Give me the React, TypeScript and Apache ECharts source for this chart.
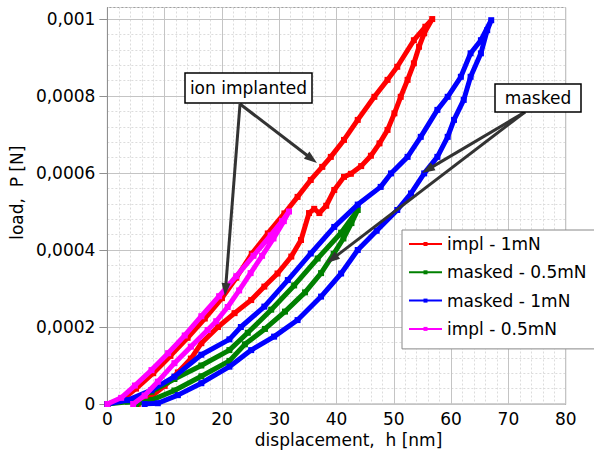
import React, { useEffect, useRef } from 'react';
import * as echarts from 'echarts';

// ---- data (displacement h [nm], load P [N]) ----
const seriesNames = ['impl - 1mN', 'masked - 0.5mN', 'masked - 1mN', 'impl - 0.5mN'];
const seriesColors = ['#ff0000', '#008000', '#0000ff', '#ff00ff'];

const impl1mN: [number, number][] = [
  [0, 0], [2.5, 0.00001], [5, 0.00004], [8, 0.00008], [11, 0.000125], [14, 0.000172], [17, 0.000222],
  [20, 0.000275], [22.5, 0.000328], [25.2, 0.00039], [28, 0.000443], [30.9, 0.000495], [33.2, 0.000538],
  [35.5, 0.000582], [37.5, 0.000616], [39, 0.000642], [41.3, 0.000686], [43.7, 0.000738], [46.6, 0.000798],
  [48.9, 0.000842], [50.6, 0.000876], [53.5, 0.000945], [55.5, 0.00098], [56.7, 0.001],
  [55.3, 0.000963], [54.4, 0.000928], [53.5, 0.000885], [52.4, 0.000842], [51.2, 0.000798], [50.1, 0.000755],
  [48.9, 0.000712], [47.5, 0.000677], [46, 0.000645], [44.3, 0.000618], [42.5, 0.000598], [41.3, 0.00059],
  [39.6, 0.000556], [38.2, 0.000515], [37, 0.000496], [36.1, 0.000507], [35.2, 0.000496], [33.8, 0.000426],
  [32.1, 0.000383], [29.7, 0.000339], [27.4, 0.000305], [25.1, 0.00027], [22.2, 0.000236], [19.3, 0.0002],
  [16.4, 0.000158], [14.6, 0.000118], [12.3, 0.000082], [10, 0.000047], [7.7, 0.00002], [5.3, 0],
];

const masked05mN: [number, number][] = [
  [0, 0], [3.6, 0.000006], [7.7, 0.000032], [11.7, 0.000065], [16.4, 0.0001], [21.3, 0.00014],
  [24.5, 0.000185], [28.6, 0.000245], [32.6, 0.000308], [36.7, 0.000378], [40.8, 0.000445], [43.7, 0.000504],
  [42.6, 0.00047], [41.2, 0.00043], [39.5, 0.00039], [37.3, 0.00034], [34.5, 0.00029], [31, 0.00024],
  [27.5, 0.000195], [24, 0.000155], [21.3, 0.000112], [16.4, 0.000072], [11.7, 0.000035], [7.7, 0.00001], [5, 0],
];

const masked1mN: [number, number][] = [
  [0, 0], [3.6, 0.00001], [7.7, 0.000036], [11.7, 0.000071], [16.4, 0.000128], [21.3, 0.000168],
  [23.3, 0.0002], [27.4, 0.000253], [31.5, 0.000322], [35.5, 0.000391], [39.6, 0.00046], [43.7, 0.000518],
  [47.7, 0.000564], [49.5, 0.000599], [52.4, 0.000642], [54.7, 0.000694], [57.6, 0.000764], [59.4, 0.000798],
  [61.7, 0.00085], [63.4, 0.000911], [65.2, 0.000945], [67, 0.000997],
  [66.3, 0.000971], [65.2, 0.000911], [63.4, 0.00085], [62.2, 0.00079], [60.5, 0.000738], [59.4, 0.000694],
  [57.6, 0.000642], [55.3, 0.000599], [53, 0.000547], [50.6, 0.000504], [47, 0.00045], [43.7, 0.0004],
  [40.8, 0.000339], [37.3, 0.000279], [33.2, 0.000218], [29.1, 0.000175], [25.1, 0.00014], [21.3, 0.000097],
  [16.4, 0.000054], [12.3, 0.000023], [8.8, 0.000002], [6.5, 0],
];

const impl05mN: [number, number][] = [
  [0, 0], [2.4, 0.000016], [4.8, 0.000048], [7.7, 0.000088], [10.6, 0.000132], [13.5, 0.000178],
  [16.4, 0.000228], [19.5, 0.00028], [22.5, 0.000332], [25.5, 0.000385], [28.5, 0.000438], [30.5, 0.000475],
  [31.7, 0.0005],
  [30.8, 0.000475], [29, 0.00043], [27, 0.000385], [25, 0.00034], [23, 0.000295], [21, 0.000252],
  [19, 0.000215], [17.5, 0.000192], [14.6, 0.000149], [11.7, 0.000106], [8.8, 0.000058], [6.5, 0.000022], [4.5, 0],
];

const seriesData = [impl1mN, masked05mN, masked1mN, impl05mN];

const yTickValues = [0, 0.0002, 0.0004, 0.0006, 0.0008, 0.001];
const xMin = 0;
const xMax = 80;
const yMin = 0;
const yMax = 0.00103;

const FONT = 'DejaVu Sans';

function arrow(x1: number, y1: number, x2: number, y2: number) {
  const headLen = 13;
  const headHalf = 4.5;
  const dx = x2 - x1;
  const dy = y2 - y1;
  const len = Math.hypot(dx, dy);
  const ux = dx / len;
  const uy = dy / len;
  const bx = x2 - ux * headLen;
  const by = y2 - uy * headLen;
  const px = -uy;
  const py = ux;
  return [
    { type: 'line', z: 100, shape: { x1, y1, x2: bx + ux * 2, y2: by + uy * 2 }, style: { stroke: '#333', lineWidth: 3 } },
    {
      type: 'polygon', z: 100,
      shape: { points: [[x2, y2], [bx + px * headHalf, by + py * headHalf], [bx - px * headHalf, by - py * headHalf]] },
      style: { fill: '#333' },
    },
  ];
}

function label(x: number, y: number, w: number, h: number, text: string) {
  return [
    { type: 'rect', z: 101, shape: { x, y, width: w, height: h }, style: { fill: '#fff', stroke: '#000', lineWidth: 1.5 } },
    {
      type: 'text', z: 102, x: x + w / 2, y: y + h / 2,
      style: { text, fill: '#000', font: `17px "${FONT}"`, align: 'center', verticalAlign: 'middle' },
    },
  ];
}

export default function App() {
  const ref = useRef<HTMLDivElement>(null);
  useEffect(() => {
    if (!ref.current) return;
    const chart = echarts.init(ref.current, undefined, { renderer: 'svg' });
    const fmt = (v: number) => (v === 0 ? '0' : String(Number(v.toPrecision(6))).replace('.', ','));
    chart.setOption({
      animation: false,
      backgroundColor: '#fff',
      grid: {
        left: 106, top: 7.5, right: 28.3, bottom: 51,
        show: true, borderColor: '#a0a0a0', borderWidth: 1, backgroundColor: 'transparent',
      },
      xAxis: {
        type: 'value', min: xMin, max: xMax, interval: 10,
        name: 'displacement,  h [nm]', nameLocation: 'middle', nameGap: 23,
        nameTextStyle: { fontFamily: FONT, fontSize: 17, color: '#000', padding: [0, 0, 0, 24] },
        axisLine: { show: true, lineStyle: { color: '#909090', width: 1 } },
        axisTick: { show: false },
        axisLabel: { fontFamily: FONT, fontSize: 17, color: '#000', margin: 6 },
        splitLine: { show: true, lineStyle: { color: '#c4c4c4', width: 1 } },
        minorTick: { show: false, splitNumber: 5 },
        minorSplitLine: { show: true, lineStyle: { color: '#dcdcdc', type: [2, 2], width: 1 } },
      },
      yAxis: [
        {
          type: 'value', min: yMin, max: yMax, interval: 0.0002,
          name: 'load,  P [N]', nameLocation: 'middle', nameGap: 76,
          nameTextStyle: { fontFamily: FONT, fontSize: 17, color: '#000', padding: [0, 0, 0, 26] },
          axisLine: { show: true, lineStyle: { color: '#909090', width: 1 } },
          axisTick: { show: true, inside: false, length: 8, lineStyle: { color: '#909090' }, customValues: yTickValues },
          axisLabel: {
            fontFamily: FONT, fontSize: 17, color: '#000', margin: 12,
            customValues: yTickValues, formatter: (v: number) => fmt(v),
          },
          splitLine: { show: true, lineStyle: { color: '#c4c4c4', width: 1 } },
          z: 1,
        },
        {
          type: 'value', min: yMin, max: yMax, interval: 0.00004, position: 'left',
          axisLine: { show: false }, axisTick: { show: false }, axisLabel: { show: false },
          splitLine: { show: true, lineStyle: { color: '#dcdcdc', type: [2, 2], width: 1 } },
          z: 0,
        },
      ],
      legend: {
        left: 402, top: 230, orient: 'vertical',
        data: seriesNames,
        itemWidth: 33, itemHeight: 5, itemGap: 11.3,
        padding: [5.5, 12, 11.5, 6],
        backgroundColor: '#fff', borderColor: '#888', borderWidth: 1,
        textStyle: { fontFamily: FONT, fontSize: 17, color: '#000', lineHeight: 17 },
        lineStyle: { width: 2 },
        selectedMode: false,
      },
      series: seriesNames.map((name, i) => ({
        type: 'line', name, data: seriesData[i], yAxisIndex: 0,
        symbol: 'rect', symbolSize: 6, showSymbol: true,
        color: seriesColors[i],
        lineStyle: { width: 5, color: seriesColors[i] },
        itemStyle: { color: seriesColors[i] },
        emphasis: { disabled: true },
        z: 2 + i,
      })),
      graphic: [
        ...arrow(240, 104, 317, 163),
        ...arrow(240, 104, 225, 296),
        ...arrow(525, 112, 422, 173),
        ...arrow(525, 112, 327, 263),
        ...label(185, 73, 127, 30, 'ion implanted'),
        ...label(495, 84, 86, 28, 'masked'),
      ],
    });
    return () => chart.dispose();
  }, []);
  return <div ref={ref} style={{ position: 'fixed', left: 0, top: 0, width: 594, height: 455 }} />;
}
